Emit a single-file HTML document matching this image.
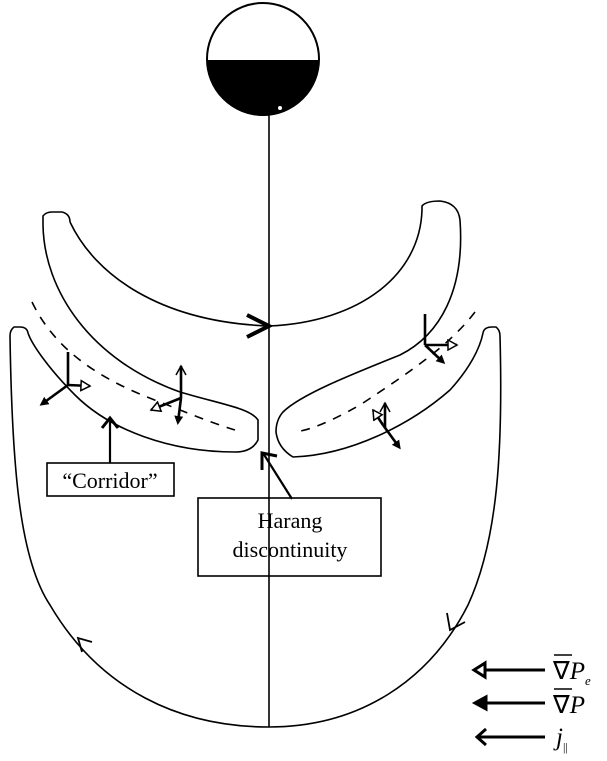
<!DOCTYPE html>
<html><head><style>body{margin:0;background:#fff}svg{display:block}</style></head>
<body>
<svg width="607" height="761" viewBox="0 0 607 761" xmlns="http://www.w3.org/2000/svg" font-family="Liberation Serif, serif">
<defs>
<marker id="fill" markerWidth="9" markerHeight="9" refX="6" refY="4.5" orient="auto" markerUnits="userSpaceOnUse"><path d="M0,0 L9,4.5 L0,9 Z" fill="#000"/></marker>
<marker id="open" markerWidth="12" markerHeight="12" refX="10" refY="6" orient="auto" markerUnits="userSpaceOnUse"><path d="M1,1 L10,6 L1,11 Z" fill="#fff" stroke="#000" stroke-width="1.5"/></marker>
<marker id="chev" markerWidth="12" markerHeight="12" refX="10" refY="6" orient="auto" markerUnits="userSpaceOnUse"><path d="M1,1 L10,6 L1,11" fill="none" stroke="#000" stroke-width="1.5"/></marker>
</defs>
<circle cx="263" cy="59" r="56" fill="#fff" stroke="#000" stroke-width="2"/>
<path d="M207,60 L319,60 A56,56 0 0 1 207,60 Z" fill="#000"/>
<circle cx="280" cy="108" r="2" fill="#fff"/>
<line x1="269" y1="115" x2="269" y2="727" stroke="#000" stroke-width="1.6"/>
<g fill="none" stroke="#000" stroke-width="1.6">
<path d="M70,222 C95,275 160,322 269,326 C360,322 420,275 422,210"/>
<path d="M43,225 L43,216 Q46,212 52,212 L62,212 Q70,214 70,222"/>
<path d="M422,210 L422,206 Q426,201 440,201 Q458,203 460,220"/>
<path d="M43,225 C44,290 90,360 180,392 C220,404 250,408 258,420 L258,440 Q252,452 235,452 C170,452 110,430 75,395 C50,370 32,345 28,333"/>
<path d="M28,333 Q27,327 20,327 L14,327 Q10,330 10,336"/>
<path d="M460,220 C465,290 440,335 400,355 C350,375 300,395 283,412 Q276,420 276,432 Q278,448 293,457 C350,455 410,425 450,390 C470,368 480,348 483,333"/>
<path d="M483,333 Q484,327 492,327 L496,327 Q500,330 500,336"/>
<path d="M10,336 C12,470 20,560 50,605 C100,690 180,727 269,727 C360,727 430,680 468,605 C498,540 503,450 500,336"/>
</g>
<g fill="none" stroke="#000" stroke-width="1.6" stroke-dasharray="9,8">
<path d="M32,302 C55,350 100,380 160,402 C190,414 215,424 235,430"/>
<path d="M475,312 C450,345 410,372 360,405 C330,422 310,430 295,432"/>
</g>
<path d="M247,315 L269,326 L247,337" fill="none" stroke="#000" stroke-width="4"/>
<g stroke="#000" stroke-width="2.6" fill="none">
<line x1="68" y1="352" x2="68" y2="385"/>
<line x1="68" y1="385" x2="42" y2="404" marker-end="url(#fill)"/>
<line x1="68" y1="385" x2="90" y2="386" marker-end="url(#open)"/>
<line x1="181" y1="398" x2="181" y2="366" marker-end="url(#chev)"/>
<line x1="181" y1="398" x2="178" y2="422" marker-end="url(#fill)"/>
<line x1="181" y1="398" x2="151" y2="410" marker-end="url(#open)"/>
<line x1="425" y1="314" x2="425" y2="345"/>
<line x1="425" y1="345" x2="443" y2="362" marker-end="url(#fill)"/>
<line x1="425" y1="345" x2="457" y2="345" marker-end="url(#open)"/>
<line x1="385" y1="428" x2="385" y2="403" marker-end="url(#chev)"/>
<line x1="383" y1="425" x2="399" y2="447" marker-end="url(#fill)"/>
<line x1="383" y1="425" x2="373" y2="410" marker-end="url(#open)"/>
</g>
<path d="M82,652 L78,638 L92,642" fill="none" stroke="#000" stroke-width="1.8"/>
<path d="M447,613 L450,630 L465,622" fill="none" stroke="#000" stroke-width="1.8"/>
<line x1="110" y1="463" x2="110" y2="422" stroke="#000" stroke-width="2.2"/>
<path d="M102,428 L110,418 L118,428" fill="none" stroke="#000" stroke-width="3"/>
<rect x="47" y="463" width="127" height="33" fill="#fff" stroke="#000" stroke-width="1.6"/>
<text x="110" y="488" font-size="22" text-anchor="middle">“Corridor”</text>
<line x1="292" y1="499" x2="263" y2="453" stroke="#000" stroke-width="2.2"/>
<path d="M262,470 L262,453 L277,456" fill="none" stroke="#000" stroke-width="3"/>
<rect x="198" y="498" width="183" height="78" fill="none" stroke="#000" stroke-width="1.6"/>
<text x="290" y="528" font-size="22" text-anchor="middle">Harang</text>
<text x="290" y="557" font-size="22" text-anchor="middle">discontinuity</text>
<g stroke="#000" stroke-width="3" fill="none">
<line x1="545" y1="670" x2="484" y2="670"/>
<path d="M485,663 L474,670 L485,677 Z" fill="#fff"/>
<line x1="545" y1="703" x2="484" y2="703"/>
<path d="M486,697 L475,703 L486,709 Z" fill="#000"/>
<line x1="545" y1="737" x2="478" y2="737"/>
<path d="M486,729 L477,737 L486,745"/>
</g>
<g stroke="#000" stroke-width="1.5">
<line x1="554" y1="655" x2="572" y2="655"/>
<line x1="554" y1="689" x2="572" y2="689"/>
</g>
<g font-size="25">
<text x="553" y="679">∇<tspan font-style="italic">P</tspan><tspan font-size="13" dy="6" font-style="italic">e</tspan></text>
<text x="553" y="713">∇<tspan font-style="italic">P</tspan></text>
<text x="556" y="745" font-style="italic">j<tspan font-size="12" dy="6" font-style="normal">||</tspan></text>
</g>
</svg>
</body></html>
